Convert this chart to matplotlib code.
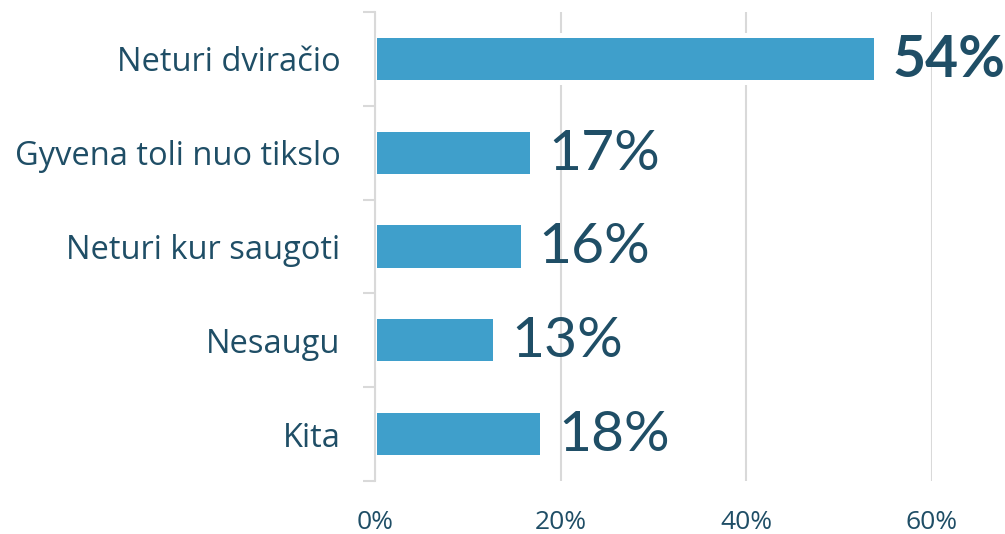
import matplotlib
matplotlib.use("Agg")
import matplotlib.pyplot as plt
import numpy as np

plt.rcParams['font.family'] = ['Open Sans', 'DejaVu Sans']

categories = ['Neturi dviračio', 'Gyvena toli nuo tikslo', 'Neturi kur saugoti', 'Nesaugu', 'Kita']
values = [53.8, 16.7, 15.7, 12.7, 17.8]
value_labels = ['54%', '17%', '16%', '13%', '18%']
label_bold = [True, False, False, False, False]
xticks = [0, 20, 40, 60]
xtick_labels = ['0%', '20%', '40%', '60%']

bar_color = '#3F9FCB'
text_color = '#1F4E66'
grid_color = '#D9D9D9'

fig = plt.figure(figsize=(10.05, 5.34), dpi=100)
ax = fig.add_axes([375 / 1005, 53 / 534, 557 / 1005, 469 / 534])

y = np.arange(len(categories))
vals = np.array(values)
# white halo behind bars so the gridlines look cut around them
ax.barh(y, vals + 0.4, left=-0.2, height=0.56, color='white', zorder=2)
ax.barh(y, vals - 0.25, left=0.25, height=0.45, color=bar_color, zorder=3)

for yi, v, lab, b in zip(y, values, value_labels, label_bold):
    ax.annotate(lab, (v, yi), xytext=(13, -1), textcoords='offset points',
                va='center', ha='left', fontsize=41, color=text_color,
                family=['Lato', 'DejaVu Sans'],
                fontweight='bold' if b else 'normal', zorder=4, annotation_clip=False)

ax.set_xlim(0, 60)
ax.set_ylim(len(categories) - 0.5, -0.5)
ax.set_xticks(xticks)
ax.set_xticklabels(xtick_labels)
ax.set_yticks(y)
ax.set_yticklabels(categories)
ax.set_yticks(np.arange(-0.5, len(categories), 1), minor=True)

ax.xaxis.grid(True, color=grid_color, linewidth=1.5, zorder=0)
ax.set_axisbelow(True)
for s in ['top', 'right', 'bottom']:
    ax.spines[s].set_visible(False)
ax.spines['left'].set_color(grid_color)
ax.spines['left'].set_linewidth(1.5)
ax.spines['left'].set_zorder(5)

ax.tick_params(axis='x', length=0, pad=21, labelsize=19, labelcolor=text_color)
ax.tick_params(axis='y', which='major', length=0, pad=25, labelsize=23.5, labelcolor=text_color)
ax.tick_params(axis='y', which='minor', length=9, width=1.5, color=grid_color, direction='out')

fig.savefig('out.png', dpi=100)
